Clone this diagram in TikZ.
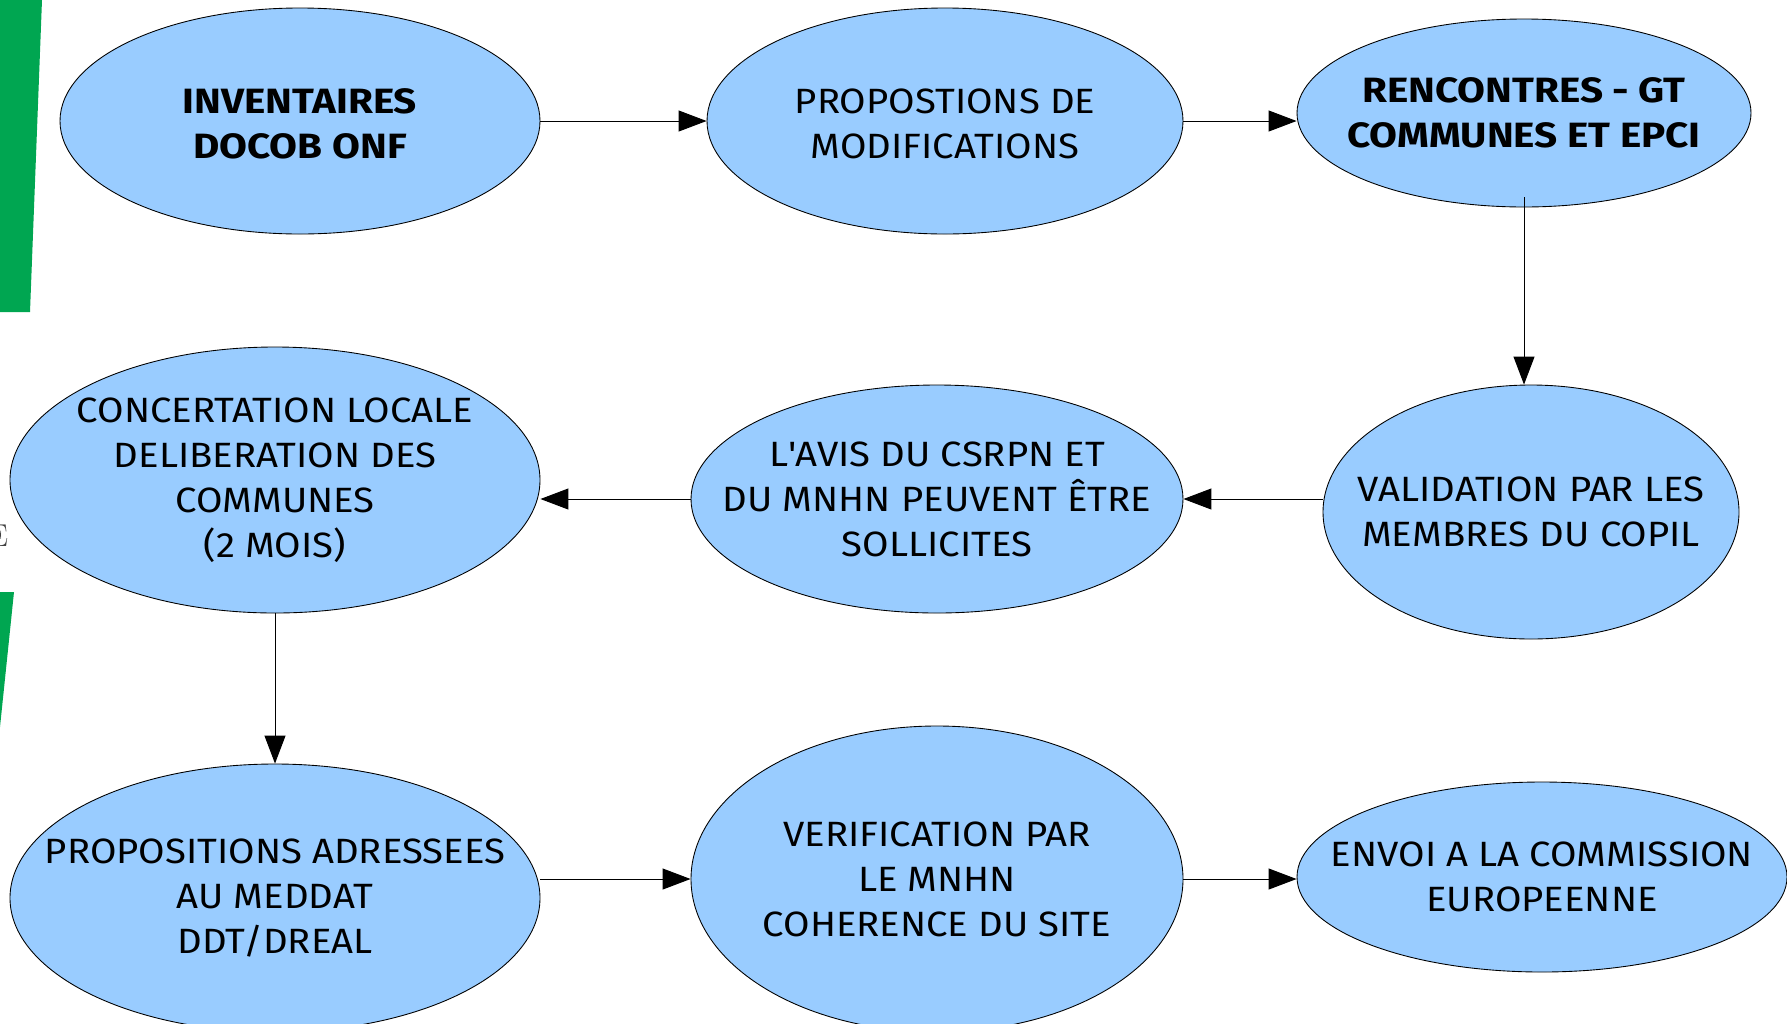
\documentclass[tikz,border=0pt]{standalone}
\usepackage{fontspec}
\newfontfamily\boxfont[FakeStretch=1.09, BoldFeatures={FakeStretch=1.15}]{Fira Sans}
\usetikzlibrary{arrows.meta,shapes.geometric}

\definecolor{skyblue}{RGB}{153,204,255}
\definecolor{leafgreen}{RGB}{0,166,81}

\tikzset{
  blob/.style={ellipse, draw=black, fill=skyblue, line width=0.5pt, inner sep=0pt},
  txt/.style={align=center, inner sep=0pt, font=\boxfont\fontsize{20}{25.6}\selectfont},
  txtbold/.style={txt, font=\boxfont\fontsize{20}{25.6}\selectfont\bfseries}
}

\begin{document}
\begin{tikzpicture}[>={Triangle[length=5.6mm,width=4.2mm]}, line width=0.55pt]

    \useasboundingbox (0,0) rectangle (35.74,-20.46);

    % green strips on the left edge
    \fill[leafgreen] (0,0) -- (0.84,0) -- (0.60,-6.24) -- (0,-6.24) -- cycle;
    \fill[leafgreen] (0,-11.84) -- (0.28,-11.84) -- (0,-14.54) -- cycle;
    \node[anchor=east, inner sep=0pt, text=darkgray, font=\fontsize{18}{18}\selectfont] (cutE) at (0.17,-10.72) {E};

    % the steps
    \node[blob, minimum width=9.6cm, minimum height=4.52cm] (inv) at (6,-2.42) {};
    \node[blob, minimum width=9.52cm, minimum height=4.52cm, right of=inv, xshift=11.9cm] (prop) {};
    \node[blob, minimum width=9.08cm, minimum height=3.76cm, right of=prop, xshift=10.58cm, yshift=1.6mm] (renc) {};
    \node[blob, minimum width=8.32cm, minimum height=5.08cm, below of=renc, yshift=-6.98cm, xshift=1.4mm] (valid) {};
    \node[blob, minimum width=9.84cm, minimum height=4.56cm, left of=valid, xshift=-10.88cm, yshift=2.6mm] (avis) {};
    \node[blob, minimum width=10.6cm, minimum height=5.32cm, left of=avis, xshift=-12.24cm, yshift=3.8mm] (conc) {};
    \node[blob, minimum width=10.6cm, minimum height=5.36cm, below of=conc, yshift=-7.36cm] (adr) {};
    \node[blob, minimum width=9.84cm, minimum height=6.12cm, right of=adr, xshift=12.24cm, yshift=3.8mm] (verif) {};
    \node[blob, minimum width=9.8cm, minimum height=3.8cm, right of=verif, xshift=11.1cm, yshift=0.4mm] (envoi) {};

    \node[txtbold] (inv-t) at ([yshift=-0.6mm]inv) {INVENTAIRES\\DOCOB ONF};
    \node[txt] (prop-t) at ([yshift=-0.6mm]prop) {PROPOSTIONS DE\\MODIFICATIONS};
    \node[txtbold] (renc-t) at (renc) {RENCONTRES - GT\\COMMUNES ET EPCI};
    \node[txt] (valid-t) at (valid) {VALIDATION PAR LES\\MEMBRES DU COPIL};
    \node[txt] (avis-t) at (avis) {L\textquotesingle AVIS DU CSRPN ET\\DU MNHN PEUVENT ÊTRE\\SOLLICITES};
    \node[txt] (conc-t) at (conc) {CONCERTATION LOCALE\\DELIBERATION DES\\COMMUNES\\(2 MOIS)};
    \node[txt] (adr-t) at (adr) {PROPOSITIONS ADRESSEES\\AU MEDDAT\\DDT/DREAL};
    \node[txt] (verif-t) at (verif) {VERIFICATION PAR\\LE MNHN\\COHERENCE DU SITE};
    \node[txt] (envoi-t) at (envoi) {ENVOI A LA COMMISSION\\EUROPEENNE};

    \draw[->] (inv.east) -- (prop.west);
    \draw[->] (prop.east) -- (prop.east -| renc.west);
    \draw[->] ([yshift=2mm]renc.south) -- (renc.south |- valid.north);
    \draw[->] (valid.west |- avis.east) -- (avis.east);
    \draw[->] (avis.west) -- (avis.west -| conc.east);
    \draw[->] (conc.south) -- (adr.north);
    \draw[->] (adr.east |- verif.west) -- (verif.west);
    \draw[->] (verif.east) -- (verif.east -| envoi.west);

  \end{tikzpicture}
\end{document}
